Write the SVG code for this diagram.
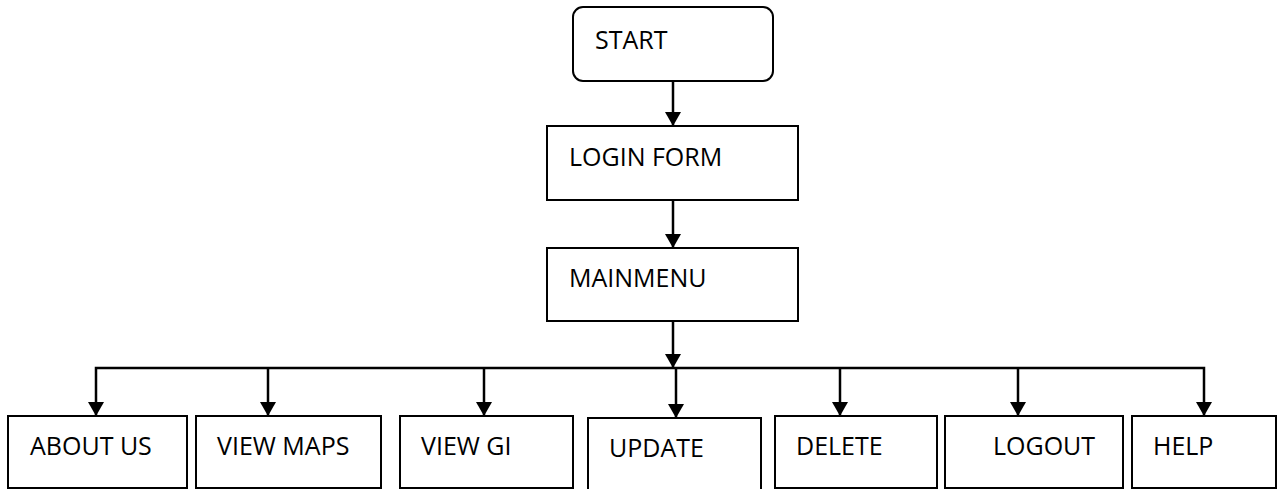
<svg xmlns="http://www.w3.org/2000/svg" width="1284" height="489" viewBox="0 0 1284 489">
<style>
.box{fill:#fff;stroke:#000;stroke-width:2}
.lbl{font-family:"Open Sans","Liberation Sans",sans-serif;font-size:25px;fill:#000}
.conn{fill:none;stroke:#000;stroke-width:2.5}
</style>
<defs>
<marker id="ah" viewBox="0 0 14 16" refX="14" refY="8" markerWidth="14" markerHeight="16" markerUnits="userSpaceOnUse" orient="auto-start-reverse">
<path d="M0,0 L14,8 L0,16 Z" fill="#000"/>
</marker>
</defs>
<rect width="1284" height="489" fill="#fff"/>
<g id="connectors">
<line class="conn" x1="673" y1="81" x2="673" y2="126" marker-end="url(#ah)"/>
<line class="conn" x1="673" y1="200" x2="673" y2="248" marker-end="url(#ah)"/>
<line class="conn" x1="673" y1="321" x2="673" y2="368" marker-end="url(#ah)"/>
<polyline class="conn" points="96,416 96,368 1204,368 1204,416" marker-start="url(#ah)" marker-end="url(#ah)"/>
<line class="conn" x1="268" y1="368" x2="268" y2="416" marker-end="url(#ah)"/>
<line class="conn" x1="484" y1="368" x2="484" y2="416" marker-end="url(#ah)"/>
<line class="conn" x1="676" y1="368" x2="676" y2="418" marker-end="url(#ah)"/>
<line class="conn" x1="840" y1="368" x2="840" y2="416" marker-end="url(#ah)"/>
<line class="conn" x1="1018" y1="368" x2="1018" y2="416" marker-end="url(#ah)"/>
</g>
<g id="start"><rect class="box" x="573" y="7" width="200" height="74" rx="10"/><text class="lbl" x="595" y="49">START</text></g>
<g id="login"><rect class="box" x="547" y="126" width="251" height="74"/><text class="lbl" x="569" y="166">LOGIN FORM</text></g>
<g id="mainmenu"><rect class="box" x="547" y="248" width="251" height="73"/><text class="lbl" x="569" y="287">MAINMENU</text></g>
<g id="about"><rect class="box" x="8" y="416" width="179" height="72"/><text class="lbl" x="30" y="455">ABOUT US</text></g>
<g id="viewmaps"><rect class="box" x="196" y="416" width="185" height="72"/><text class="lbl" x="217" y="455">VIEW MAPS</text></g>
<g id="viewgi"><rect class="box" x="400" y="416" width="173" height="72"/><text class="lbl" x="421" y="455">VIEW GI</text></g>
<g id="update"><rect class="box" x="588" y="418" width="173" height="80"/><text class="lbl" x="609" y="457">UPDATE</text></g>
<g id="delete"><rect class="box" x="775" y="416" width="162" height="72"/><text class="lbl" x="796" y="455">DELETE</text></g>
<g id="logout"><rect class="box" x="945" y="416" width="178" height="72"/><text class="lbl" x="993" y="455">LOGOUT</text></g>
<g id="help"><rect class="box" x="1132" y="416" width="144" height="72"/><text class="lbl" x="1153" y="455">HELP</text></g>
</svg>
